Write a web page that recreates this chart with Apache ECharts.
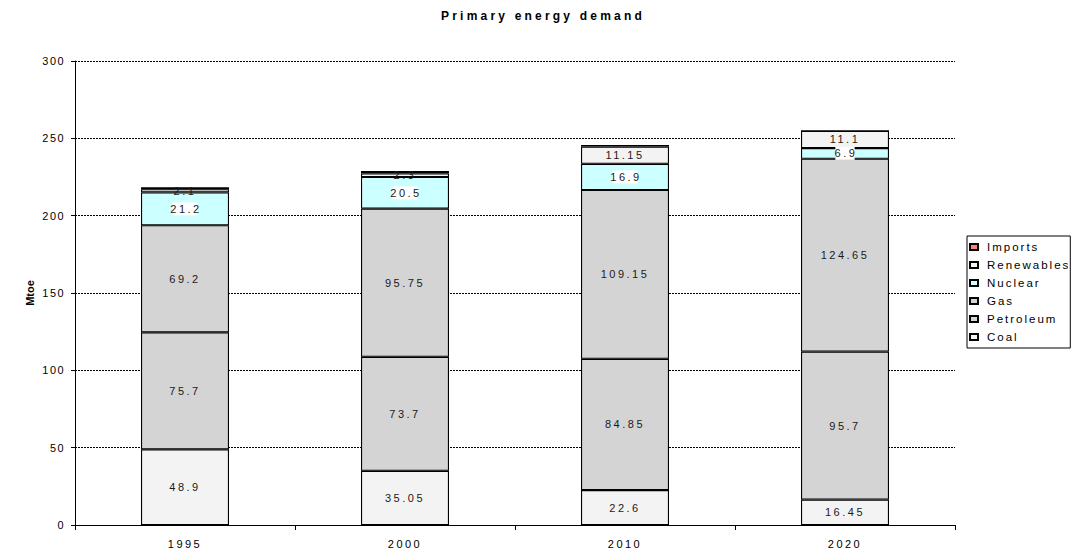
<!DOCTYPE html>
<html>
<head>
<meta charset="utf-8">
<script src="https://cdn.jsdelivr.net/npm/echarts@6/dist/echarts.min.js"></script>
<style>
  html, body { margin: 0; padding: 0; background: #fff; overflow: hidden; }
  #chart { width: 1073px; height: 553px; }
  /* spaced-out lettering, keyed on font size */
  #chart svg text[style*="11px"] { letter-spacing: 2.5px; }
  #chart svg text[style*="10.9px"] { letter-spacing: 1.5px; }
  #chart svg text[style*="11.5px"] { letter-spacing: 2px; }
  #chart svg text[style*="12px"] { letter-spacing: 3.2px; }
  #chart svg text[style*="bold"][style*="11px"] { letter-spacing: 0; }
</style>
</head>
<body>
<div id="chart"></div>
<script>
// Primary energy demand, Mtoe, by source
const years = ['1995', '2000', '2010', '2020'];
const coal = [48.9, 35.05, 22.6, 16.45];
const petroleum = [75.7, 73.7, 84.85, 95.7];
const gas = [69.2, 95.75, 109.15, 124.65];
const nuclear = [21.2, 20.5, 16.9, 6.9];
const renewables = [2.1, 2.3, 11.15, 11.1];
const imports = [1.2, 1.5, 1.0, 0];

const yTicks = { min: 0, max: 300, interval: 50 };

const sources = [
  { name: 'Coal', data: coal, color: '#f3f3f3', label: true },
  { name: 'Petroleum', data: petroleum, color: '#d4d4d4', label: true },
  { name: 'Gas', data: gas, color: '#d4d4d4', label: true },
  { name: 'Nuclear', data: nuclear, color: '#ccffff', label: true, labelBg: '#ffffff' },
  { name: 'Renewables', data: renewables, color: '#f3f3f3', label: true },
  { name: 'Imports', data: imports, color: '#ff7f7f', label: false }
];

const chart = echarts.init(document.getElementById('chart'), null, { renderer: 'svg' });

chart.setOption({
  animation: false,
  backgroundColor: '#ffffff',
  title: {
    text: 'Primary energy demand',
    left: 538,
    textAlign: 'center',
    top: 5,
    textStyle: { fontFamily: 'Liberation Sans', fontSize: 12, fontWeight: 'bold', color: '#000' }
  },
  grid: { left: 75, right: 118, top: 61, bottom: 28 },
  legend: {
    data: sources.map(s => s.name).reverse(),
    orient: 'vertical',
    left: 967,
    top: 236,
    padding: [5, 20, 5, 2],
    itemGap: 6,
    itemWidth: 8,
    itemHeight: 6,
    icon: 'rect',
    borderColor: '#000',
    borderWidth: 1,
    itemStyle: { borderWidth: 2, borderColor: '#000' },
    textStyle: { fontFamily: 'Liberation Sans', fontSize: 11.5, color: '#000', lineHeight: 12, padding: [0, 0, 0, 4] }
  },
  xAxis: {
    type: 'category',
    data: years,
    boundaryGap: true,
    axisLine: { lineStyle: { color: '#000', width: 1 } },
    axisTick: { show: true, alignWithLabel: false, length: 5, lineStyle: { color: '#000' } },
    axisLabel: { fontFamily: 'Liberation Sans', fontSize: 11, color: '#000', margin: 13 }
  },
  yAxis: {
    type: 'value',
    min: yTicks.min,
    max: yTicks.max,
    interval: yTicks.interval,
    name: 'Mtoe',
    nameLocation: 'middle',
    nameRotate: 90,
    nameGap: 20,
    nameTextStyle: { fontFamily: 'Liberation Sans', fontSize: 11, fontWeight: 'bold', color: '#000' },
    axisLine: { show: true, lineStyle: { color: '#000', width: 1 } },
    axisTick: { show: true, length: 4, lineStyle: { color: '#000' } },
    axisLabel: { fontFamily: 'Liberation Sans', fontSize: 10.9, color: '#000', margin: 10 },
    splitLine: { show: true, lineStyle: { color: '#000', width: 1, type: [2, 1] } }
  },
  series: sources.map(s => ({
    name: s.name,
    type: 'bar',
    stack: 'demand',
    data: s.data,
    barWidth: '40%',
    itemStyle: { color: s.color, borderColor: '#000', borderWidth: 1.1 },
    label: {
      show: s.label,
      position: 'inside',
      formatter: p => (p.value ? String(p.value) : ''),
      fontFamily: 'Liberation Sans',
      fontSize: 11,
      color: '#1a1a1a',
      backgroundColor: s.labelBg || 'transparent',
      padding: s.labelBg ? [1, 1, 1, 3] : 0
    }
  }))
});
</script>
</body>
</html>
